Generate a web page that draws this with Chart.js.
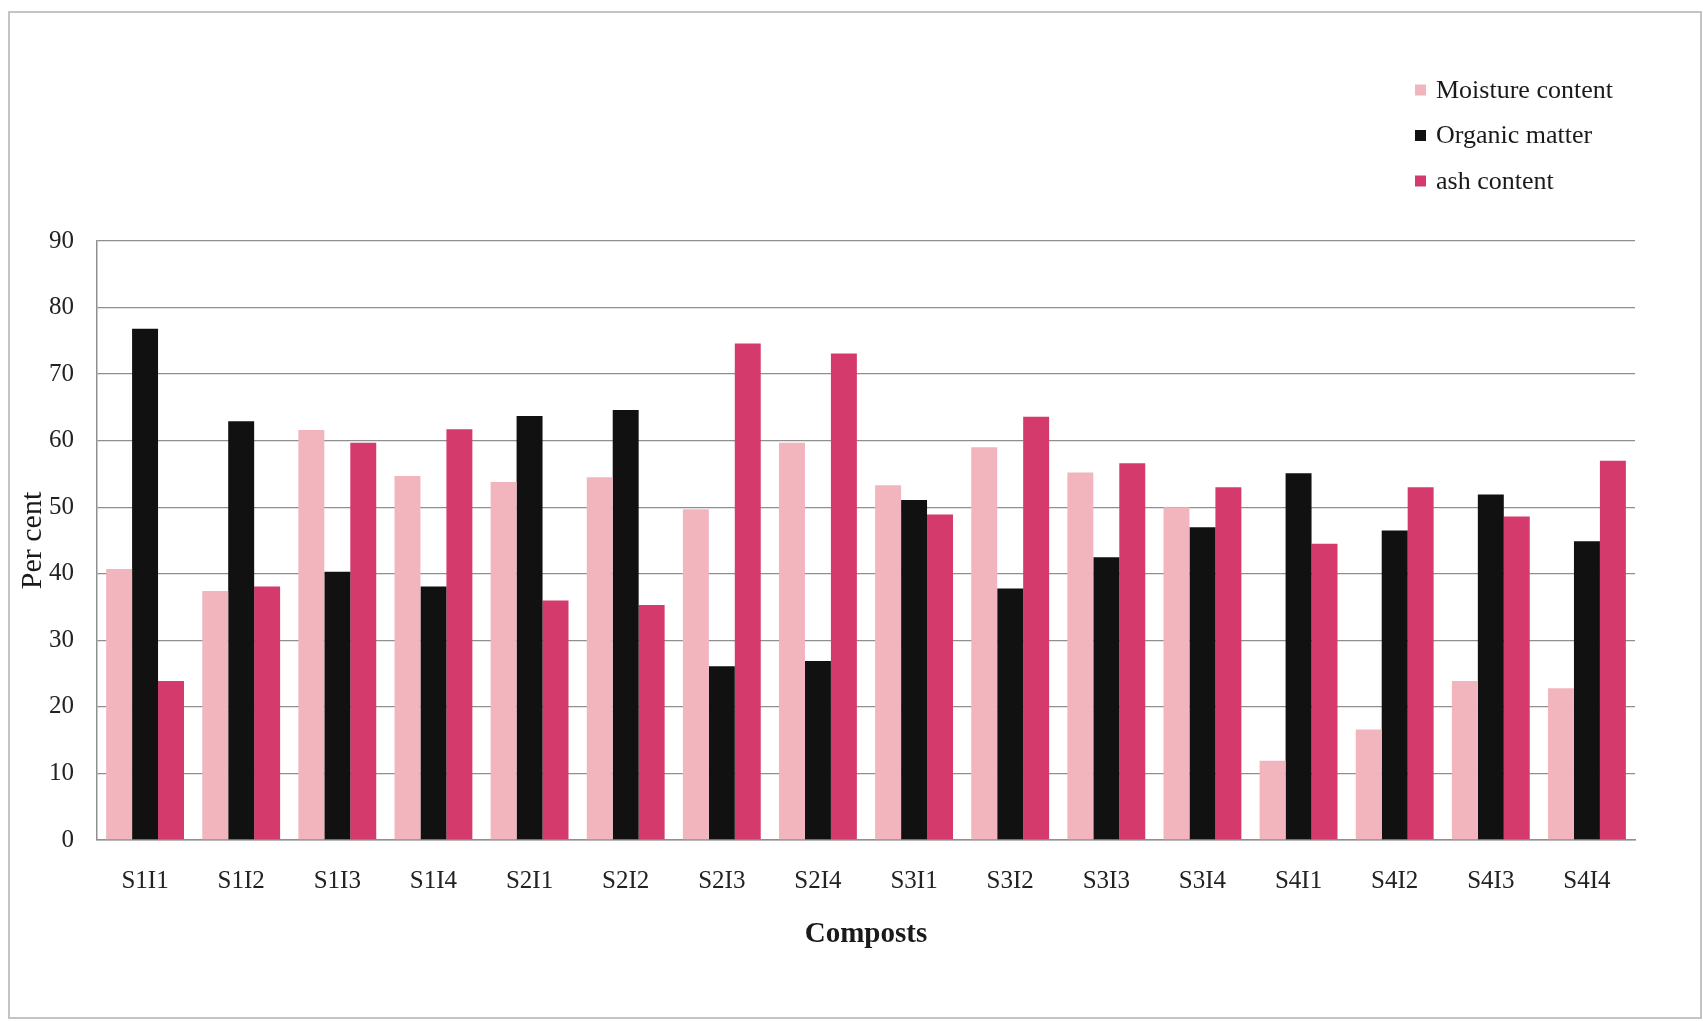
<!DOCTYPE html>
<html>
<head>
<meta charset="utf-8">
<title>Composts</title>
<script src="https://cdn.jsdelivr.net/npm/chart.js@4/dist/chart.umd.min.js"></script>
<style>
  html, body { margin: 0; padding: 0; background: #ffffff; }
  #wrap { position: relative; width: 1703px; height: 1021px; }
</style>
</head>
<body>
<div id="wrap"><canvas id="compostChart" width="1703" height="1021"></canvas></div>
<script>
// compost samples
const composts = ['S1I1', 'S1I2', 'S1I3', 'S1I4', 'S2I1', 'S2I2', 'S2I3', 'S2I4',
                  'S3I1', 'S3I2', 'S3I3', 'S3I4', 'S4I1', 'S4I2', 'S4I3', 'S4I4'];

// per cent values
const moistureContent = [40.7, 37.4, 61.6, 54.7, 53.8, 54.5, 49.7, 59.7,
                         53.3, 59.0, 55.2, 50.0, 11.9, 16.6, 23.9, 22.8];
const organicMatter   = [76.8, 62.9, 40.3, 38.1, 63.7, 64.6, 26.1, 26.9,
                         51.1, 37.8, 42.5, 47.0, 55.1, 46.5, 51.9, 44.9];
const ashContent      = [23.9, 38.1, 59.7, 61.7, 36.0, 35.3, 74.6, 73.1,
                         48.9, 63.6, 56.6, 53.0, 44.5, 53.0, 48.6, 57.0];

const seriesNames = ['Moisture content', 'Organic matter', 'ash content'];
const seriesColors = ['#f2b5be', '#111111', '#d53a6c'];

const yTicks = [0, 10, 20, 30, 40, 50, 60, 70, 80, 90];

const serif = "'Liberation Serif', 'Times New Roman', serif";

// light gray frame around the whole figure
const framePlugin = {
    id: 'frame',
    beforeDraw(chart) {
        const ctx = chart.ctx;
        ctx.save();
        ctx.strokeStyle = '#c4c4c4';
        ctx.lineWidth = 2;
        ctx.strokeRect(9, 12, 1692, 1006);
        ctx.restore();
    }
};

// stacked legend in the top right corner
const sideLegend = {
    id: 'sideLegend',
    afterDraw(chart) {
        const ctx = chart.ctx;
        ctx.save();
        ctx.font = '26px ' + serif;
        ctx.textBaseline = 'middle';
        chart.data.datasets.forEach((ds, i) => {
            const y = 90 + i * 45.5;
            ctx.fillStyle = ds.backgroundColor;
            ctx.fillRect(1415, y - 5.5, 11, 11);
            ctx.fillStyle = '#1a1a1a';
            ctx.fillText(ds.label, 1436, y + 1);
        });
        ctx.restore();
    }
};

const datasets = [moistureContent, organicMatter, ashContent].map((values, i) => ({
    label: seriesNames[i],
    data: values,
    backgroundColor: seriesColors[i],
    borderWidth: 0,
    categoryPercentage: 0.81,
    barPercentage: 1.0
}));

new Chart(document.getElementById('compostChart'), {
    type: 'bar',
    data: { labels: composts, datasets: datasets },
    options: {
        responsive: false,
        animation: false,
        layout: { padding: { top: 241, right: 68, bottom: 0, left: 0 } },
        plugins: {
            legend: { display: false },
            tooltip: { enabled: false }
        },
        scales: {
            x: {
                grid: { display: false },
                border: { display: true, color: '#8f8f8f', width: 1.5 },
                ticks: {
                    color: '#222222',
                    font: { family: serif, size: 25 },
                    padding: 18,
                    maxRotation: 0
                },
                title: {
                    display: true,
                    text: 'Composts',
                    color: '#1a1a1a',
                    font: { family: serif, size: 29, weight: 'bold' },
                    padding: { top: 0, bottom: 69 }
                },
                afterFit(scale) { scale.height = 181; }
            },
            y: {
                min: 0,
                max: 90,
                afterBuildTicks(scale) {
                    scale.ticks = yTicks.map(v => ({ value: v }));
                },
                grid: {
                    color: '#8f8f8f',
                    lineWidth: 1.3,
                    drawTicks: false
                },
                border: { display: true, color: '#8f8f8f', width: 1.5 },
                ticks: {
                    color: '#222222',
                    font: { family: serif, size: 25 },
                    padding: 23
                },
                title: {
                    display: true,
                    text: 'Per cent',
                    color: '#1a1a1a',
                    font: { family: serif, size: 30 },
                    padding: { top: 15, bottom: 0 }
                },
                afterFit(scale) { scale.width = 97; }
            }
        }
    },
    plugins: [framePlugin, sideLegend]
});
</script>
</body>
</html>
